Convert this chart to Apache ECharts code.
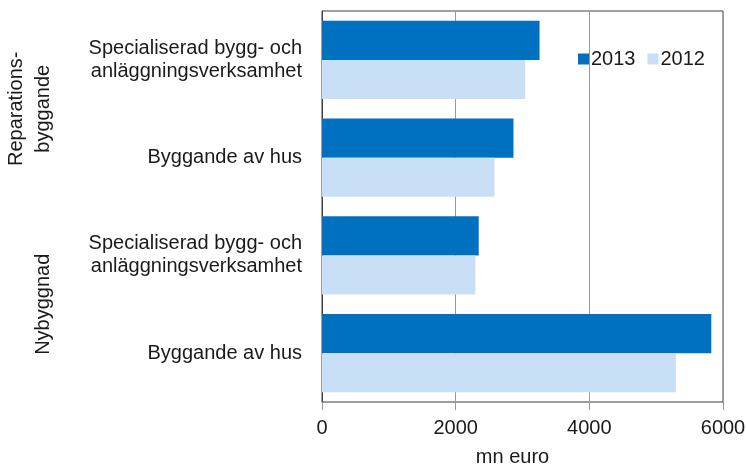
<!DOCTYPE html>
<html>
<head>
<meta charset="utf-8">
<script src="https://cdn.jsdelivr.net/npm/echarts@6/dist/echarts.min.js"></script>
<style>
html,body{margin:0;padding:0;background:#fff;}
#chart{width:746px;height:465px;}
</style>
</head>
<body>
<div id="chart"></div>
<script>
// Categories listed bottom to top
var categories = ['Byggande av hus', 'Specialiserad bygg- och\nanläggningsverksamhet', 'Byggande av hus', 'Specialiserad bygg- och\nanläggningsverksamhet'];
var groups = ['Nybyggnad', 'Reparations-\nbyggande'];
var seriesNames = ['2013', '2012'];
var values2013 = [5825, 2345, 2865, 3255];
var values2012 = [5295, 2295, 2580, 3040];
var xTicks = [0, 2000, 4000, 6000];

var FONT = '"Liberation Sans", Arial, sans-serif';
var chart = echarts.init(document.getElementById('chart'), null, {renderer: 'canvas'});
chart.setOption({
  animation: false,
  backgroundColor: '#ffffff',
  textStyle: {fontFamily: FONT},
  grid: {left: 322, right: 23, top: 11, bottom: 63, show: true, borderColor: '#404040', borderWidth: 1, containLabel: false, outerBoundsMode: 'none'},
  legend: {
    data: seriesNames,
    left: 573, top: 44,
    itemWidth: 11, itemHeight: 11, itemGap: 12,
    icon: 'rect',
    textStyle: {fontSize: 20, color: '#1a1a1a', fontFamily: FONT, padding: [0, 0, 0, -3]}
  },
  xAxis: {
    type: 'value', min: xTicks[0], max: xTicks[xTicks.length - 1], interval: 2000,
    name: 'mn euro', nameLocation: 'middle', nameGap: 45,
    nameTextStyle: {fontSize: 20, color: '#1a1a1a', fontFamily: FONT, padding: [0, 20, 0, 0]},
    axisLine: {show: true, lineStyle: {color: '#999999', width: 1}},
    axisTick: {show: true, length: 8, lineStyle: {color: '#999999'}},
    axisLabel: {fontSize: 20, color: '#1a1a1a', margin: 16, fontFamily: FONT, formatter: function (v) { return String(v); }},
    splitLine: {show: true, lineStyle: {color: '#999999', width: 1}}
  },
  yAxis: [{
    type: 'category', data: categories, position: 'left',
    axisLine: {show: true, lineStyle: {color: '#404040', width: 1}},
    axisTick: {show: false},
    axisLabel: {fontSize: 20, color: '#1a1a1a', margin: 20, lineHeight: 23, align: 'right', fontFamily: FONT}
  }, {
    type: 'category', data: groups, position: 'left', offset: 257,
    axisLine: {show: false}, axisTick: {show: false}, splitLine: {show: false},
    axisLabel: {fontSize: 20, color: '#1a1a1a', rotate: 90, lineHeight: 27, margin: 8, fontFamily: FONT}
  }],
  series: [{
    name: '2013', type: 'bar', data: values2013, yAxisIndex: 0,
    barGap: '0%', barCategoryGap: '20%',
    itemStyle: {color: '#0070C0'}
  }, {
    name: '2012', type: 'bar', data: values2012, yAxisIndex: 0,
    barGap: '0%', barCategoryGap: '20%',
    itemStyle: {color: '#C9DFF6'}
  }]
});
</script>
</body>
</html>
